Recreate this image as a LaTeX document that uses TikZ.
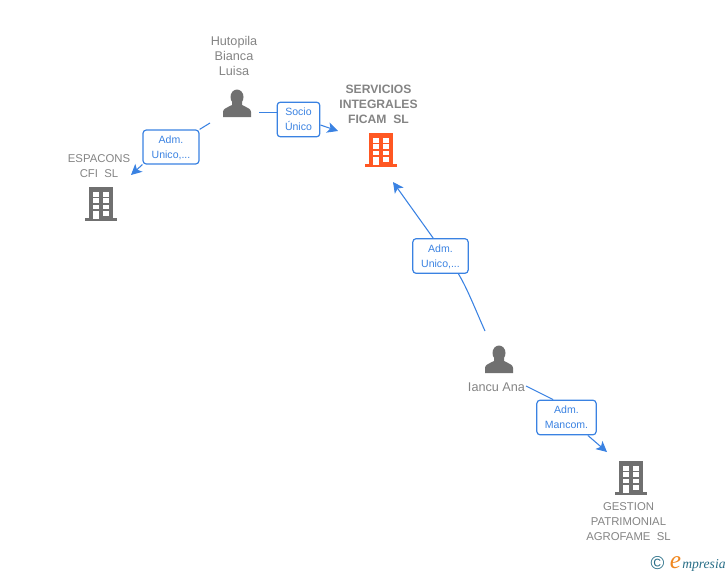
\documentclass[tikz,border=0pt]{standalone}
\usepackage{fontspec}
\setmainfont{Liberation Sans}
\newfontfamily\logofont{Liberation Serif}
\usetikzlibrary{arrows.meta, positioning}
\definecolor{linkblue}{RGB}{58, 130, 226}
\definecolor{iconcol}{RGB}{112, 112, 112}
\definecolor{namegrey}{RGB}{132, 132, 132}
\definecolor{mainorange}{RGB}{255, 87, 34}
\definecolor{logoteal}{RGB}{40, 110, 135}
\definecolor{logoorange}{RGB}{240, 135, 30}
\tikzset{
  namelabel/.style={font=\fontsize{8.5pt}{11.2pt}\selectfont, text=namegrey, align=center, inner sep=0pt},
  personlabel/.style={namelabel, font=\fontsize{9.5pt}{11.2pt}\selectfont},
  mainlabel/.style={namelabel, font=\fontsize{9.1pt}{11.2pt}\selectfont\bfseries},
  linkbox/.style={draw=linkblue, line width=0.9pt, rounded corners=2.5pt, fill=white, text=linkblue, align=center,
    font=\fontsize{7.9pt}{11.2pt}\selectfont, inner sep=0pt, text depth=0pt},
  linkline/.style={draw=linkblue, line width=0.8pt},
  linkarrow/.style={linkline, -{Stealth[length=8pt, width=8pt, inset=2pt]}},
  pics/personicon/.style={code={
    \fill[iconcol] (0,-7) ellipse (6.5 and 7.5);
    \fill[iconcol] (-14,13) -- (-14,8) .. controls (-14,5) and (-11,4) .. (-5,1) -- (-5,-3) -- (5,-3) -- (5,1)
      .. controls (11,4) and (14,5) .. (14,8) -- (14,13) -- cycle;
  }},
  pics/buildingicon/.style={code={
    \fill[#1] (-12,-17) rectangle (12,15);
    \fill[#1] (-16,14) rectangle (16,17);
    \foreach \wy/\wh in {-12/4.5,-6/4.5,0.5/4.5} {
      \fill[white] (-8.5,\wy) rectangle +(6,\wh);
      \fill[white] (1.5,\wy) rectangle +(6,\wh);
    }
    \fill[white] (-8.5,7) rectangle (-2.5,15);
    \fill[white] (1.5,7) rectangle (7.5,12);
  }}
}
\begin{document}
\begin{tikzpicture}[x=0.75pt, y=-0.75pt]
  \useasboundingbox (0,0) rectangle (728,575);

  % People
  \pic at (237,104) {personicon};
  \node[personlabel] (hutopila) at (234,56) {Hutopila\\Bianca\\Luisa};
  \pic at (499,360) {personicon};
  \node[personlabel] (iancu) at (496.5,387) {Iancu Ana};

  % Companies
  \node[mainlabel] (servicios) at (378.5,104) {SERVICIOS\\INTEGRALES\\FICAM\ \ SL};
  \pic at (381,150) {buildingicon=mainorange};
  \node[namelabel] (espacons) at (99,166) {ESPACONS\\CFI\ \ SL};
  \pic at (101,204) {buildingicon=iconcol};
  \node[namelabel] (gestion) at (628.5,522) {GESTION\\PATRIMONIAL\\AGROFAME\ \ SL};
  \pic at (631,478) {buildingicon=iconcol};

  % Link labels
  \node[linkbox, minimum width=42pt, minimum height=25.5pt] (admone) at (171,147) {Adm.\\Unico,...};
  \node[linkbox, minimum width=32pt, minimum height=26pt] (socio) at (298.5,119.5) {Socio\\Único};
  \node[linkbox, minimum width=41.5pt, minimum height=26pt] (admtwo) at (440.5,256) {Adm.\\Unico,...};
  \node[linkbox, minimum width=44.5pt, minimum height=26pt] (mancom) at (566.5,417.5) {Adm.\\Mancom.};

  % Free ends
  \coordinate (hutopilaout) at (210,123);
  \coordinate (hutopilaside) at (259,112.4);
  \coordinate (espaconsin) at (131,175);
  \coordinate (serviciosleft) at (338,131);
  \coordinate (serviciosbelow) at (393,182);
  \coordinate (iancuup) at (485,331);
  \coordinate (iancuside) at (526,386);
  \coordinate (gestionin) at (607,452);

  % Connectors
  \draw[linkline] (hutopilaout) -- (admone.north east);
  \draw[linkarrow] (admone.south west) -- (espaconsin);
  \draw[linkline] (hutopilaside) -- (socio.west |- hutopilaside);
  \draw[linkarrow] (socio.east |- 0,125) -- (serviciosleft);
  \draw[linkline] (iancuup) .. controls (476,311) and (468,290) .. ([xshift=13.5pt]admtwo.south);
  \draw[linkarrow] ([xshift=-5.5pt]admtwo.north) -- (serviciosbelow);
  \draw[linkline] (iancuside) -- ([xshift=-10pt]mancom.north);
  \draw[linkarrow] ([xshift=16pt]mancom.south) -- (gestionin);

  % Logo
  \node[inner sep=0pt, font=\fontsize{14pt}{14pt}\selectfont, text=logoteal] (copyr) at (657.5,563) {©};
  \node[inner sep=0pt, font=\logofont\fontsize{10.2pt}{12pt}\selectfont\itshape, text=logoteal, anchor=base west] (logo) at (682,568)
    {mpresia};
  \node[inner sep=0pt, font=\logofont\fontsize{19pt}{19pt}\selectfont\itshape, text=logoorange, anchor=base east] (logoe) at (681.5,568.5) {e};
\end{tikzpicture}
\end{document}
